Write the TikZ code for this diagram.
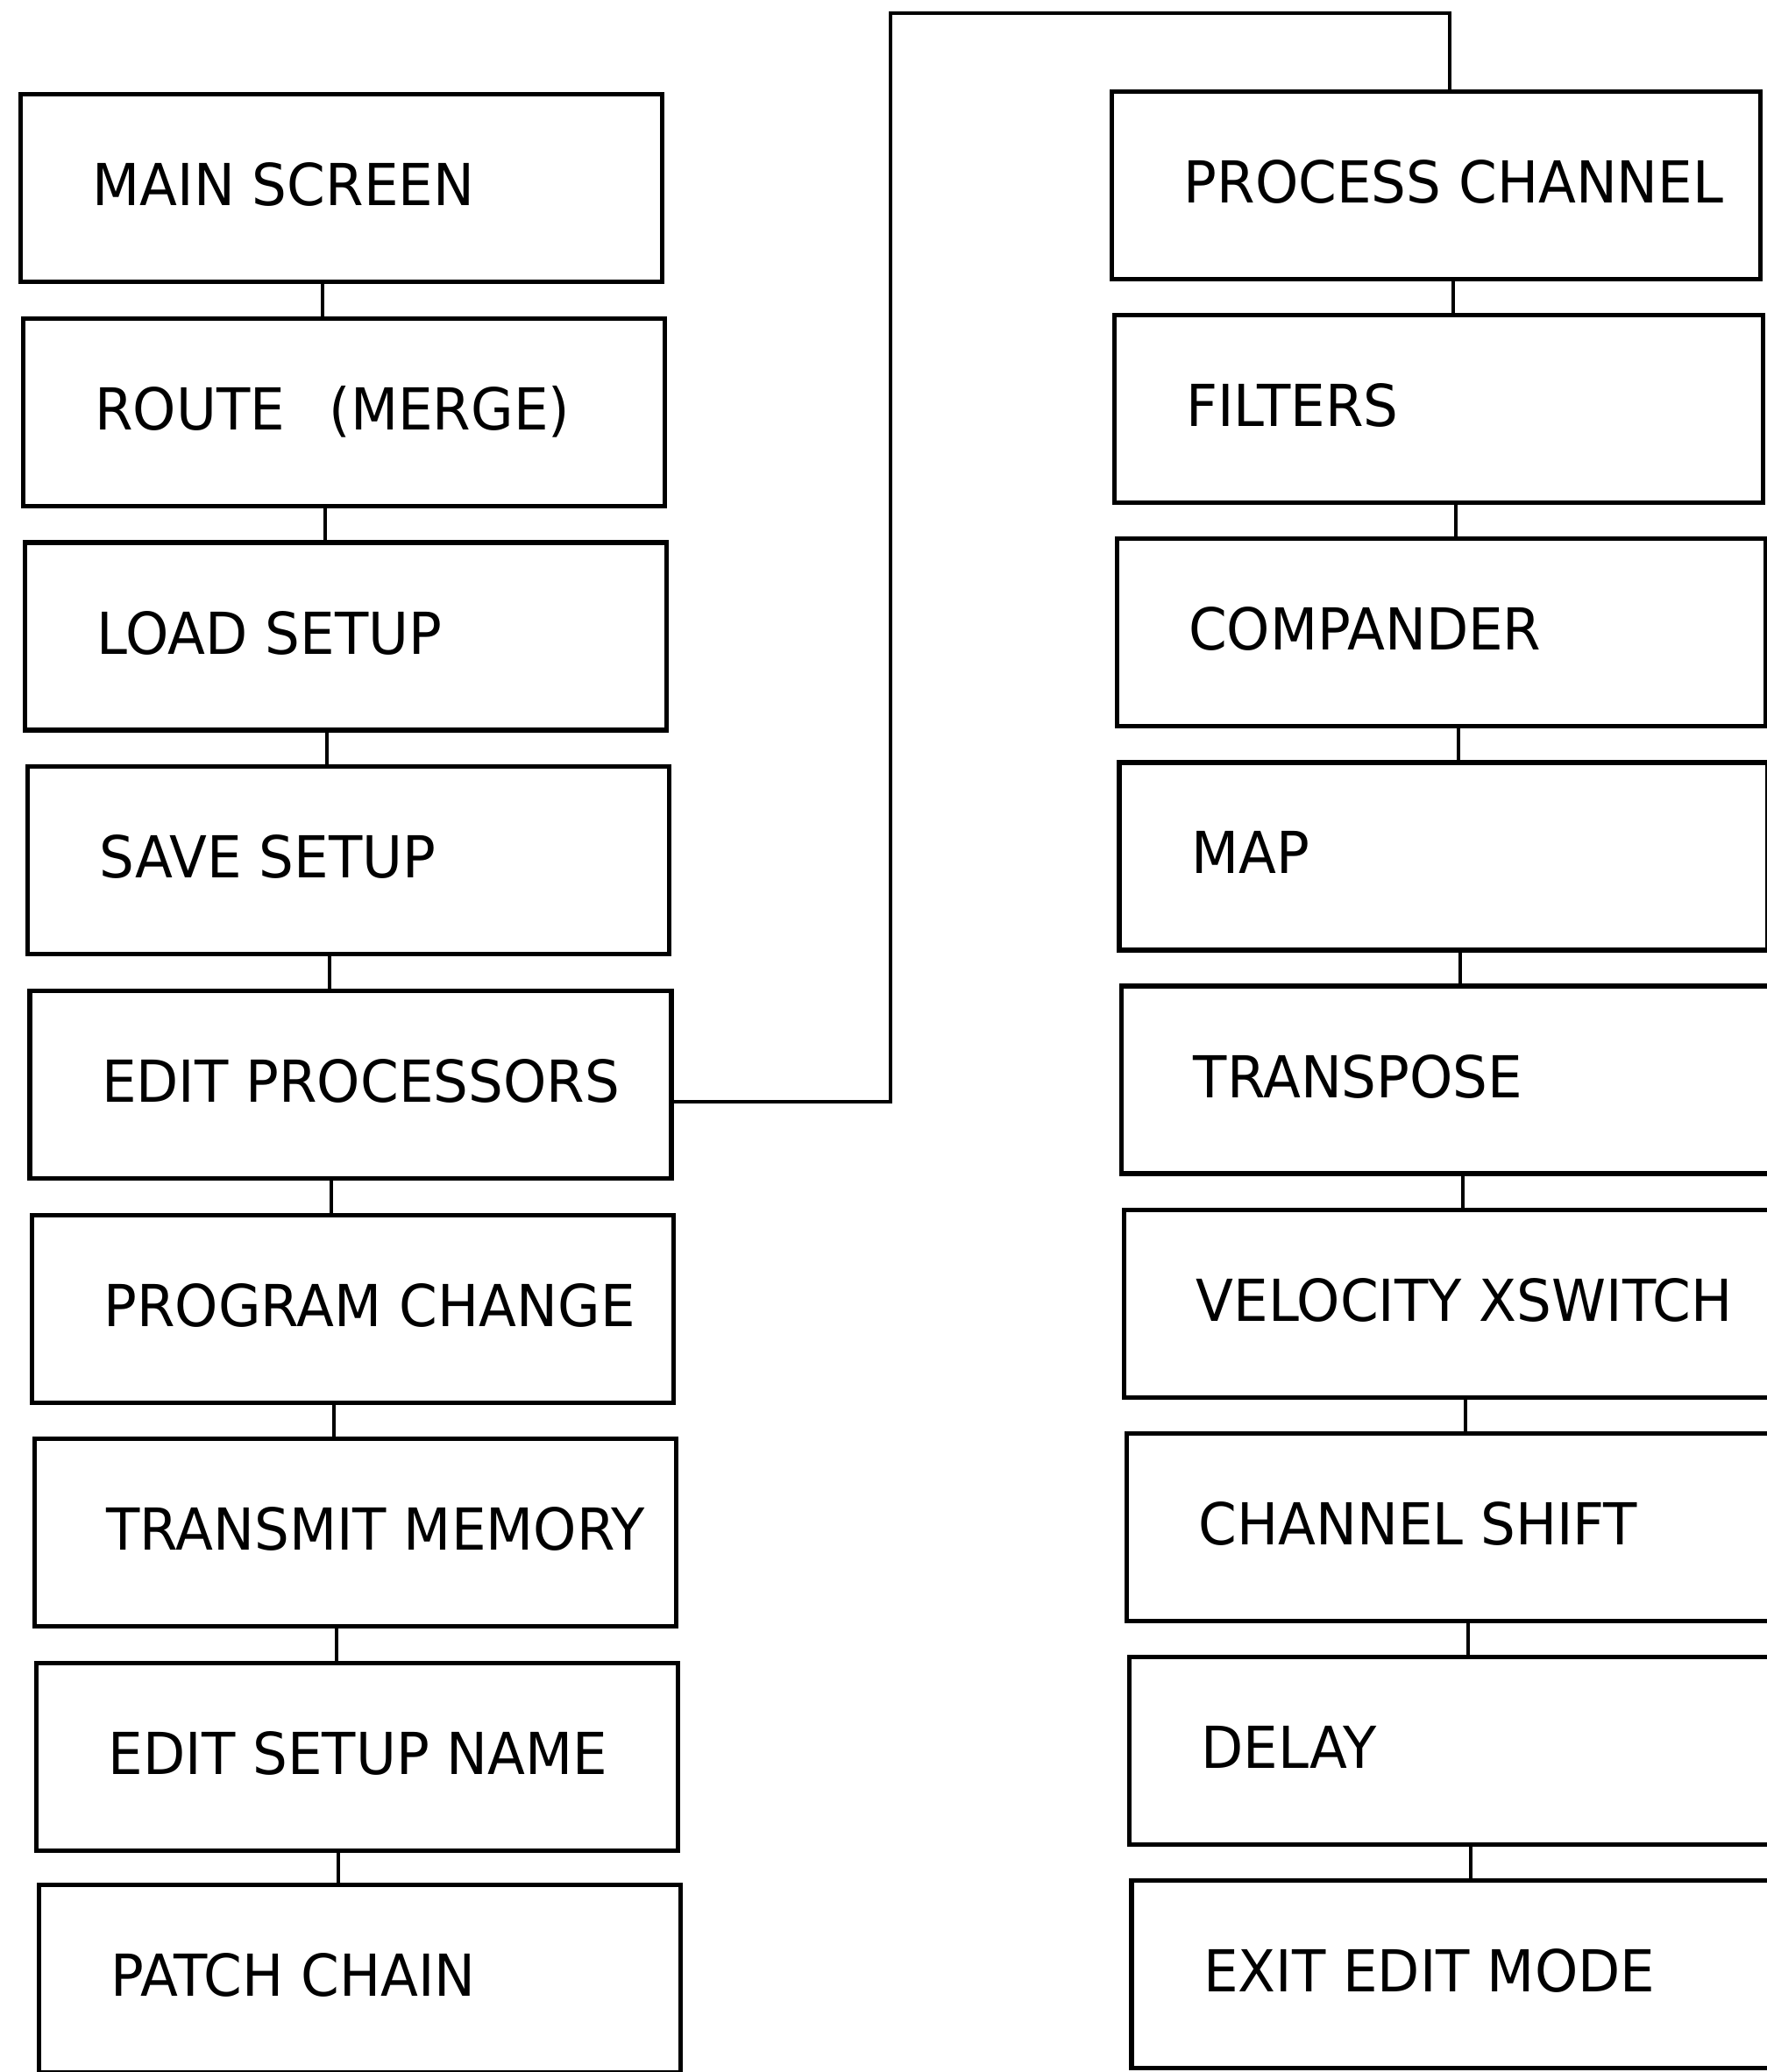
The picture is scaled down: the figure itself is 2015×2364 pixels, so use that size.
\documentclass[tikz,border=0pt]{standalone}
\usepackage{fontspec}
\setmainfont{DejaVu Sans}[FakeStretch=0.95]
\newcommand\flowlabel[2]{\makebox[#1][l]{\hspace*{41pt}#2}}
\tikzset{
  flowbox/.style={draw=black, line width=2.6pt, rectangle, inner sep=0pt,
    minimum height=107pt, text height=24pt, text depth=4pt, anchor=north west,
    font=\fontsize{33pt}{36pt}\selectfont},
  leftbox/.style={flowbox, minimum width=366pt},
  rightbox/.style={flowbox, minimum width=370pt},
  link/.style={draw=black, line width=2.0pt}
}
\begin{document}
\begin{tikzpicture}[x=0.5pt, y=-0.5pt]
\useasboundingbox (0,0) rectangle (2015,2364);
% left column
\node[leftbox] (l0) at (21,105)      {\flowlabel{366pt}{MAIN SCREEN}};
\node[leftbox] (l1) at (23.6,360.7)  {\flowlabel{366pt}{ROUTE\ \ \,(MERGE)}};
\node[leftbox] (l2) at (26.2,616.4)  {\flowlabel{366pt}{LOAD SETUP}};
\node[leftbox] (l3) at (28.8,872.1)  {\flowlabel{366pt}{SAVE SETUP}};
\node[leftbox] (l4) at (31.4,1127.8) {\flowlabel{366pt}{EDIT PROCESSORS}};
\node[leftbox] (l5) at (34,1383.5)   {\flowlabel{366pt}{PROGRAM CHANGE}};
\node[leftbox] (l6) at (36.6,1639.2) {\flowlabel{366pt}{TRANSMIT MEMORY}};
\node[leftbox] (l7) at (39.2,1894.9) {\flowlabel{366pt}{EDIT SETUP NAME}};
\node[leftbox] (l8) at (41.8,2148)   {\flowlabel{366pt}{PATCH CHAIN}};
% right column
\node[rightbox] (r0) at (1266,102)      {\flowlabel{370pt}{PROCESS CHANNEL}};
\node[rightbox] (r1) at (1268.8,357.1)  {\flowlabel{370pt}{FILTERS}};
\node[rightbox] (r2) at (1271.6,612.2)  {\flowlabel{370pt}{COMPANDER}};
\node[rightbox] (r3) at (1274.4,867.3)  {\flowlabel{370pt}{MAP}};
\node[rightbox] (r4) at (1277.2,1122.4) {\flowlabel{370pt}{TRANSPOSE}};
\node[rightbox] (r5) at (1280,1377.5)   {\flowlabel{370pt}{VELOCITY XSWITCH}};
\node[rightbox] (r6) at (1282.8,1632.6) {\flowlabel{370pt}{CHANNEL SHIFT}};
\node[rightbox] (r7) at (1285.6,1887.7) {\flowlabel{370pt}{DELAY}};
\node[rightbox] (r8) at (1288.4,2142.8) {\flowlabel{370pt}{EXIT EDIT MODE}};
% vertical links
\foreach \a/\b in {l0/l1,l1/l2,l2/l3,l3/l4,l4/l5,l5/l6,l6/l7,l7/l8}
  \draw[link] ([xshift=173.5pt]\a.south west) -- ([xshift=173.5pt]\a.south west |- \b.north);
\foreach \a/\b in {r0/r1,r1/r2,r2/r3,r3/r4,r4/r5,r5/r6,r6/r7,r7/r8}
  \draw[link] ([xshift=196pt]\a.south west) -- ([xshift=196pt]\a.south west |- \b.north);
% branch from EDIT PROCESSORS to PROCESS CHANNEL
\coordinate (bend) at (1016,15);
\draw[link] ([yshift=-10pt]l4.east) -| (bend) -| ([xshift=194pt]r0.north west);
\end{tikzpicture}
\end{document}
